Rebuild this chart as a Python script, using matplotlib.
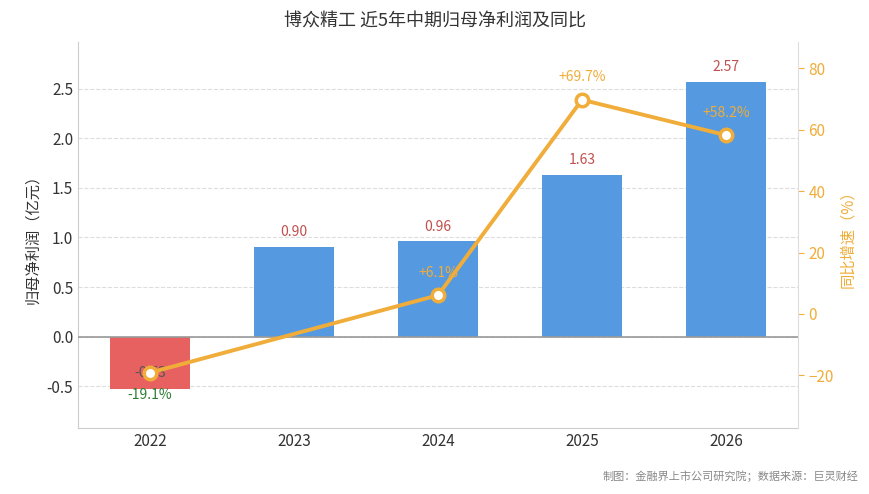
import matplotlib
matplotlib.use("Agg")
import matplotlib.pyplot as plt

plt.rcParams['font.family'] = ['Noto Sans CJK SC', 'DejaVu Sans']

years = ["2022", "2023", "2024", "2025", "2026"]
profit = [-0.53, 0.90, 0.96, 1.63, 2.57]
growth = [-19.1, None, 6.1, 69.7, 58.2]

fig = plt.figure(figsize=(8.7, 4.94), dpi=100)
ax = fig.add_axes([78/870, 1-428/494, 720/870, 386/494])
ax2 = ax.twinx()
x = list(range(len(years)))
colors = ['#e86161' if v < 0 else '#5599e0' for v in profit]
ax.bar(x, profit, width=0.55, color=colors, zorder=2)
ax.set_ylim(-0.92, 2.97)
ax.set_xlim(-0.5, 4.5)
ax.set_xticks(x)
ax.set_xticklabels(years, fontsize=11, color='#333')
ax.set_yticks([-0.5, 0, 0.5, 1.0, 1.5, 2.0, 2.5])
ax.set_yticklabels(['-0.5', '0.0', '0.5', '1.0', '1.5', '2.0', '2.5'], fontsize=11, color='#333')
ax.grid(axis='y', linestyle='--', color='#dddddd', zorder=0)
ax.axhline(0, color='#999999', lw=1.2, zorder=3)
ax.set_ylabel('归母净利润（亿元）', fontsize=11, color='#333')
for s in ['top', 'right']:
    ax.spines[s].set_visible(False)
ax.spines['left'].set_color('#cccccc')
ax.spines['bottom'].set_color('#cccccc')
ax.tick_params(length=0)
for i, v in enumerate(profit):
    if v < 0:
        ax.text(i, v / 2 - 0.1, f'{v:.2f}', ha='center', va='center', fontsize=10, color='#555555', zorder=4)
    else:
        ax.text(i, v + 0.08, f'{v:.2f}', ha='center', va='bottom', fontsize=10, color='#c0504d')

gx = [i for i, g in enumerate(growth) if g is not None]
gy = [g for g in growth if g is not None]
ax2.plot(gx, gy, color='#f0ad3a', lw=2.8, marker='o', ms=9, mfc='white', mec='#f0ad3a', mew=2.5, zorder=5)
ax2.set_ylim(-37.1, 88.5)
ax2.set_yticks([-20, 0, 20, 40, 60, 80])
ax2.tick_params(axis='y', colors='#f0ad3a', labelsize=11, length=4)
ax2.spines['right'].set_color('#dddddd')
for s in ['top', 'left', 'bottom']:
    ax2.spines[s].set_visible(False)
ax2.set_ylabel('同比增速（%）', fontsize=11, color='#f0ad3a')
for i, g in zip(gx, gy):
    if g < 0:
        ax2.text(i, g - 5, f'{g:+.1f}%', ha='center', va='top', fontsize=10, color='#2e7d32')
    else:
        ax2.text(i, g + 5, f'{g:+.1f}%', ha='center', va='bottom', fontsize=10, color='#f0ad3a')

fig.text(0.5, 1-22/494, '博众精工 近5年中期归母净利润及同比', ha='center', va='center', fontsize=13, color='#333')
fig.text(858/870, 1-476/494, '制图：金融界上市公司研究院；数据来源：巨灵财经', ha='right', va='center', fontsize=8, color='#888')
fig.savefig('out.png', dpi=100)
